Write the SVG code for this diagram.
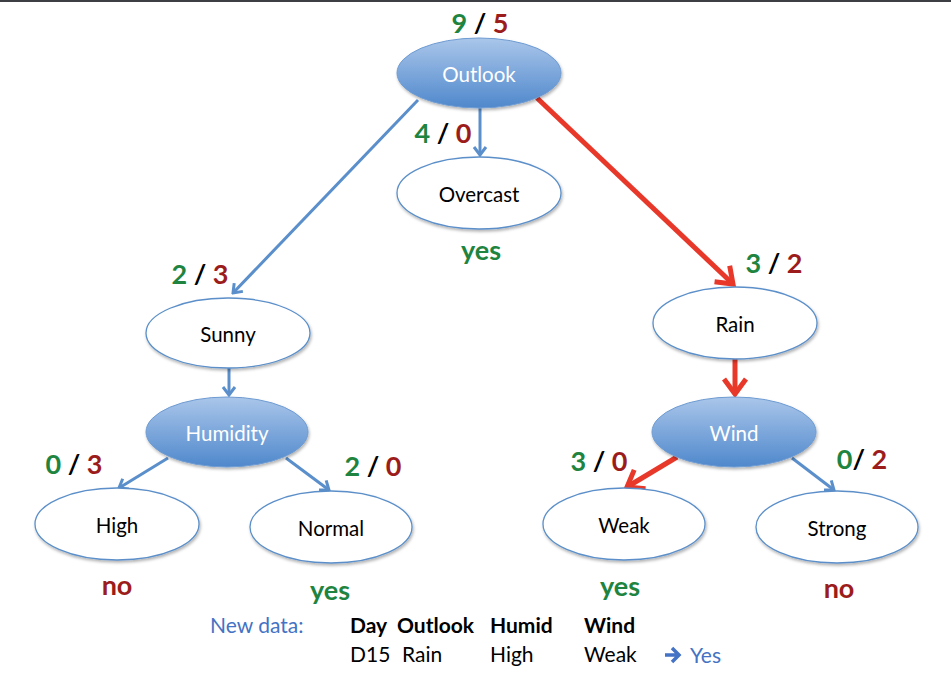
<svg xmlns="http://www.w3.org/2000/svg" width="951" height="678" viewBox="0 0 951 678">
<style>
.node-w{fill:#fff;stroke:#5B8FC9;stroke-width:1.3;filter:url(#sh)}
.node-b{fill:url(#gb);stroke:#6E9BD2;stroke-width:1;filter:url(#sh)}
.t{font-family:Lato,"Open Sans","Liberation Sans",sans-serif;font-size:20.5px;text-anchor:middle}
.tb{fill:#000}
.tw{fill:#fff}
.cnt{font-family:Lato,"Open Sans","Liberation Sans",sans-serif;font-size:27px;font-weight:bold;text-anchor:middle}
.g{fill:#1E8440}
.r{fill:#9C1C1C}
.k{fill:#000}
.blue{stroke:#5A8FCB;stroke-width:3;fill:none}
.red{stroke:#E8382A;stroke-width:5;fill:none}
.data{font-family:Lato,"Open Sans","Liberation Sans",sans-serif;font-size:21px}
</style>
<defs>
<linearGradient id="gb" x1="0" y1="0" x2="0" y2="1">
<stop offset="0" stop-color="#AAC6EA"/>
<stop offset="1" stop-color="#4F88CC"/>
</linearGradient>
<filter id="sh" x="-10%" y="-10%" width="125%" height="135%">
<feDropShadow dx="1" dy="2" stdDeviation="1.5" flood-color="#000" flood-opacity="0.3"/>
</filter>
<marker id="ab" viewBox="-12 -8 14 16" markerWidth="14" markerHeight="16" refX="0" refY="0" orient="auto" markerUnits="userSpaceOnUse">
<path d="M-8,-6 L0,0 L-8,6" fill="none" stroke="#5A8FCB" stroke-width="3" stroke-linejoin="miter"/>
</marker>
<marker id="ar" viewBox="-20 -14 24 28" markerWidth="24" markerHeight="28" refX="0" refY="0" orient="auto" markerUnits="userSpaceOnUse">
<path d="M-15,-11 L0,0 L-15,11" fill="none" stroke="#E8382A" stroke-width="5" stroke-linejoin="miter"/>
</marker>
</defs>
<rect x="0" y="0" width="951" height="678" fill="#fff"/>
<rect x="0" y="0" width="951" height="2" fill="#3C3F44"/>

<g id="connectors">
<line class="blue" x1="418" y1="100" x2="233" y2="293" marker-end="url(#ab)"/>
<line class="blue" x1="480" y1="108" x2="480" y2="155" marker-end="url(#ab)"/>
<line class="red" x1="537" y1="98" x2="733" y2="284" marker-end="url(#ar)"/>
<line class="blue" x1="229" y1="368" x2="229" y2="395" marker-end="url(#ab)"/>
<line class="blue" x1="168" y1="458" x2="119" y2="488" marker-end="url(#ab)"/>
<line class="blue" x1="286" y1="458" x2="329" y2="490" marker-end="url(#ab)"/>
<line class="red" x1="735" y1="358" x2="735" y2="394" marker-end="url(#ar)"/>
<line class="red" x1="677" y1="457" x2="627" y2="487" marker-end="url(#ar)"/>
<line class="blue" x1="792" y1="458" x2="834" y2="490" marker-end="url(#ab)"/>
</g>

<g id="node-outlook">
<ellipse class="node-b" cx="479" cy="73" rx="82" ry="35"/>
<text class="t tw" x="479" y="82">Outlook</text>
</g>
<g id="node-overcast">
<ellipse class="node-w" cx="479" cy="193" rx="82" ry="36"/>
<text class="t tb" x="479" y="202">Overcast</text>
</g>
<g id="node-sunny">
<ellipse class="node-w" cx="228" cy="333" rx="82" ry="35"/>
<text class="t tb" x="228" y="342">Sunny</text>
</g>
<g id="node-rain">
<ellipse class="node-w" cx="735" cy="323" rx="82" ry="36"/>
<text class="t tb" x="735" y="332">Rain</text>
</g>
<g id="node-humidity">
<ellipse class="node-b" cx="227" cy="432" rx="81" ry="35"/>
<text class="t tw" x="227" y="441">Humidity</text>
</g>
<g id="node-wind">
<ellipse class="node-b" cx="734" cy="432" rx="82" ry="35"/>
<text class="t tw" x="734" y="441">Wind</text>
</g>
<g id="node-high">
<ellipse class="node-w" cx="117" cy="524" rx="82" ry="36"/>
<text class="t tb" x="117" y="533">High</text>
</g>
<g id="node-normal">
<ellipse class="node-w" cx="331" cy="527" rx="81" ry="36"/>
<text class="t tb" x="331" y="536">Normal</text>
</g>
<g id="node-weak">
<ellipse class="node-w" cx="624" cy="524" rx="81" ry="36"/>
<text class="t tb" x="624" y="533">Weak</text>
</g>
<g id="node-strong">
<ellipse class="node-w" cx="837" cy="527" rx="81" ry="36"/>
<text class="t tb" x="837" y="536">Strong</text>
</g>

<g id="counts">
<text class="cnt" x="480" y="33"><tspan class="g">9</tspan><tspan class="k"> / </tspan><tspan class="r">5</tspan></text>
<text class="cnt" x="443" y="143"><tspan class="g">4</tspan><tspan class="k"> / </tspan><tspan class="r">0</tspan></text>
<text class="cnt" x="200" y="284"><tspan class="g">2</tspan><tspan class="k"> / </tspan><tspan class="r">3</tspan></text>
<text class="cnt" x="774" y="273"><tspan class="g">3</tspan><tspan class="k"> / </tspan><tspan class="r">2</tspan></text>
<text class="cnt" x="74" y="474"><tspan class="g">0</tspan><tspan class="k"> / </tspan><tspan class="r">3</tspan></text>
<text class="cnt" x="373" y="476"><tspan class="g">2</tspan><tspan class="k"> / </tspan><tspan class="r">0</tspan></text>
<text class="cnt" x="599" y="471"><tspan class="g">3</tspan><tspan class="k"> / </tspan><tspan class="r">0</tspan></text>
<text class="cnt" x="862" y="469"><tspan class="g">0</tspan><tspan class="k">/ </tspan><tspan class="r">2</tspan></text>
</g>

<g id="outcomes">
<text class="cnt g" x="481" y="260">yes</text>
<text class="cnt r" x="117" y="595">no</text>
<text class="cnt g" x="330" y="600">yes</text>
<text class="cnt g" x="620" y="596">yes</text>
<text class="cnt r" x="839" y="598">no</text>
</g>

<g id="new-data">
<text class="data" x="210" y="633" fill="#4472C4">New data:</text>
<text class="data" y="633" font-weight="bold" fill="#000"><tspan x="350">Day</tspan><tspan x="397">Outlook</tspan><tspan x="490">Humid</tspan><tspan x="584">Wind</tspan></text>
<text class="data" y="662" fill="#000"><tspan x="350">D15</tspan><tspan x="402">Rain</tspan><tspan x="490">High</tspan><tspan x="584">Weak</tspan></text>
<path d="M665,655 L678,655 M672,648 L679,655 L672,662" fill="none" stroke="#4472C4" stroke-width="3.5" stroke-linejoin="miter"/>
<text class="data" x="690" y="663" fill="#4472C4">Yes</text>
</g>
</svg>
